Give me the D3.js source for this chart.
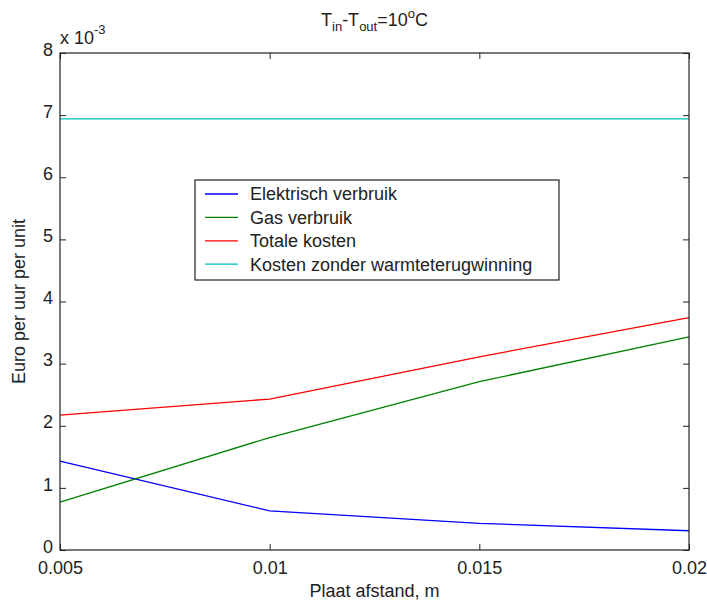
<!DOCTYPE html>
<meta charset="utf-8">
<style>
body {
  margin: 0;
  background: white;
}
svg text {
  font-family: "Liberation Sans", Arial, sans-serif;
  fill: #222;
}
.axis path {
  display: none;
}
.axis line {
  stroke: #222;
}
</style>
<body>
<svg width="707" height="602"></svg>
<script src="https://cdn.jsdelivr.net/npm/d3@7"></script>
<script>
// plate spacing (m)
var plaatAfstand = [0.005, 0.01, 0.015, 0.02];
// euro per hour per unit, x 10^-3
var elektrisch = [1.43, 0.63, 0.43, 0.31];
var gas = [0.77, 1.81, 2.71, 3.43];
var totaal = [2.17, 2.43, 3.11, 3.74];
var zonderWinning = [6.94, 6.94, 6.94, 6.94];

var xTicks = [0.005, 0.01, 0.015, 0.02];
var yTicks = [0, 1, 2, 3, 4, 5, 6, 7, 8];

var series = [
  {name: "Elektrisch verbruik", values: elektrisch, color: "#0000ff"},
  {name: "Gas verbruik", values: gas, color: "#008000"},
  {name: "Totale kosten", values: totaal, color: "#ff0000"},
  {name: "Kosten zonder warmteterugwinning", values: zonderWinning, color: "#00bfbf"}
];

var svg = d3.select("svg"),
    margin = {top: 53, right: 18, bottom: 52, left: 60},
    width = +svg.attr("width") - margin.left - margin.right,
    height = +svg.attr("height") - margin.top - margin.bottom;

var x = d3.scaleLinear().domain([0.005, 0.02]).range([0, width]),
    y = d3.scaleLinear().domain([0, 8]).range([height, 0]);

var g = svg.append("g")
    .attr("transform", "translate(" + margin.left + "," + margin.top + ")");

var fs = "18px";

g.append("g")
    .attr("class", "axis")
    .attr("transform", "translate(0," + height + ")")
    .call(d3.axisBottom(x).tickValues(xTicks).tickSize(-6).tickPadding(11)
      .tickFormat(function(d) { return String(+d.toFixed(3)); }))
    .selectAll("text").style("font-size", fs);

g.append("g")
    .attr("class", "axis")
    .call(d3.axisTop(x).tickValues(xTicks).tickSize(-6).tickFormat(""));

g.append("g")
    .attr("class", "axis")
    .call(d3.axisLeft(y).tickValues(yTicks).tickSize(-6).tickPadding(7).tickFormat(d3.format("d")))
    .selectAll("text").style("font-size", fs).attr("dy", "0.12em");

g.append("g")
    .attr("class", "axis")
    .attr("transform", "translate(" + width + ",0)")
    .call(d3.axisRight(y).tickValues(yTicks).tickSize(-6).tickFormat(""));

var line = d3.line()
    .x(function(d, i) { return x(plaatAfstand[i]); })
    .y(function(d) { return y(d); });

g.selectAll(".serie")
  .data(series)
  .enter().append("path")
    .attr("class", "serie")
    .attr("fill", "none")
    .attr("stroke", function(d) { return d.color; })
    .attr("stroke-width", 1.3)
    .attr("d", function(d) { return line(d.values); });

// axes box
g.append("rect")
    .attr("width", width)
    .attr("height", height)
    .attr("fill", "none")
    .attr("stroke", "#222")
    .attr("stroke-width", 1.2);

// exponent label
var ex = svg.append("text")
    .attr("x", margin.left)
    .attr("y", 44)
    .style("font-size", fs);
ex.append("tspan").text("x 10");
ex.append("tspan").attr("dy", -10).style("font-size", "13px").text("-3");

// title
var t = svg.append("text")
    .attr("x", margin.left + width / 2)
    .attr("y", 26)
    .attr("text-anchor", "middle")
    .style("font-size", fs);
t.append("tspan").text("T");
t.append("tspan").attr("dy", 5).style("font-size", "13px").text("in");
t.append("tspan").attr("dy", -5).text("-T");
t.append("tspan").attr("dy", 5).style("font-size", "13px").text("out");
t.append("tspan").attr("dy", -5).text("=10");
t.append("tspan").attr("dy", -8).style("font-size", "13px").text("o");
t.append("tspan").attr("dy", 8).text("C");

// axis titles
svg.append("text")
    .attr("x", margin.left + width / 2)
    .attr("y", 597)
    .attr("text-anchor", "middle")
    .style("font-size", fs)
    .text("Plaat afstand, m");

svg.append("text")
    .attr("transform", "translate(25," + (margin.top + height / 2) + ") rotate(-90)")
    .attr("text-anchor", "middle")
    .style("font-size", fs)
    .text("Euro per uur per unit");

// legend
var legend = svg.append("g").attr("transform", "translate(195,180)");
legend.append("rect")
    .attr("width", 364)
    .attr("height", 100)
    .attr("fill", "white")
    .attr("stroke", "#222")
    .attr("stroke-width", 1.2);

var item = legend.selectAll(".item")
  .data(series)
  .enter().append("g")
    .attr("class", "item")
    .attr("transform", function(d, i) { return "translate(0," + (14 + i * 23.4) + ")"; });

item.append("line")
    .attr("x1", 10).attr("x2", 43)
    .attr("stroke", function(d) { return d.color; })
    .attr("stroke-width", 1.3);

item.append("text")
    .attr("x", 55)
    .attr("dy", "0.35em")
    .style("font-size", fs)
    .text(function(d) { return d.name; });
</script>
</body>
